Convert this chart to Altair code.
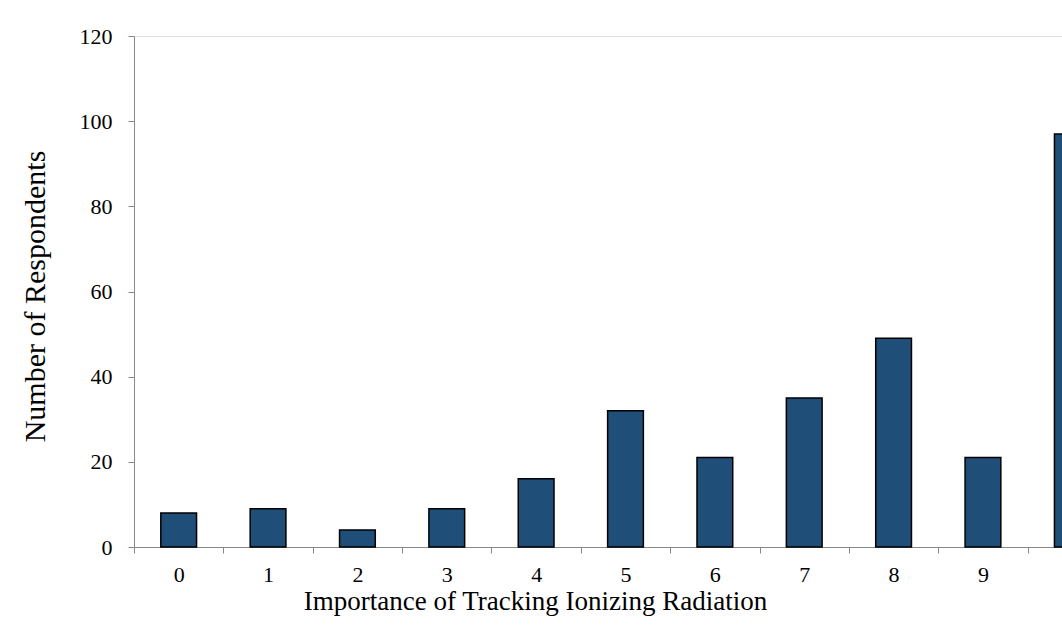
import altair as alt
import pandas as pd

categories = ["0", "1", "2", "3", "4", "5", "6", "7", "8", "9", "10"]
respondents = [8, 9, 4, 9, 16, 32, 21, 35, 49, 21, 97]

df = pd.DataFrame({"importance": categories, "count": respondents})

FONT = "Liberation Serif"
AXIS_GRAY = "#888888"

chart = alt.Chart(df).mark_bar(
    color="#1f4e79", stroke="#000000", strokeWidth=1.5,
    width=alt.RelativeBandSize(0.4)
).encode(
    x=alt.X("importance:N", sort=categories,
            scale=alt.Scale(paddingInner=0, paddingOuter=0, range=[0, 983]),
            axis=alt.Axis(title="Importance of Tracking Ionizing Radiation",
                          labelAngle=0, tickBand="extent",
                          labelFont=FONT, labelFontSize=22, labelColor="#000000",
                          labelPadding=11, tickSize=6,
                          titleFont=FONT, titleFontSize=27, titleFontWeight="normal",
                          titleColor="#000000", titleX=401, titleY=62,
                          titleBaseline="alphabetic", titleAlign="center",
                          domainColor=AXIS_GRAY, tickColor=AXIS_GRAY)),
    y=alt.Y("count:Q",
            scale=alt.Scale(domain=[0, 120], nice=False),
            axis=alt.Axis(title="Number of Respondents", values=[0, 20, 40, 60, 80, 100, 120],
                          grid=False, labelFont=FONT, labelFontSize=22, labelColor="#000000",
                          labelPadding=16, tickSize=6,
                          titleFont=FONT, titleFontSize=30, titleFontWeight="normal",
                          titleColor="#000000", titleX=-90, titleY=260,
                          titleAngle=270, titleBaseline="alphabetic", titleAlign="center",
                          domainColor=AXIS_GRAY, tickColor=AXIS_GRAY)),
).properties(
    width=928, height=511,
    autosize=alt.AutoSizeParams(type="none"),
    padding={"left": 134, "top": 36, "right": 0, "bottom": 89},
).configure_view(stroke=None).configure(background="white")

chart.save("out.html", embed_options={"renderer": "svg", "actions": False})
